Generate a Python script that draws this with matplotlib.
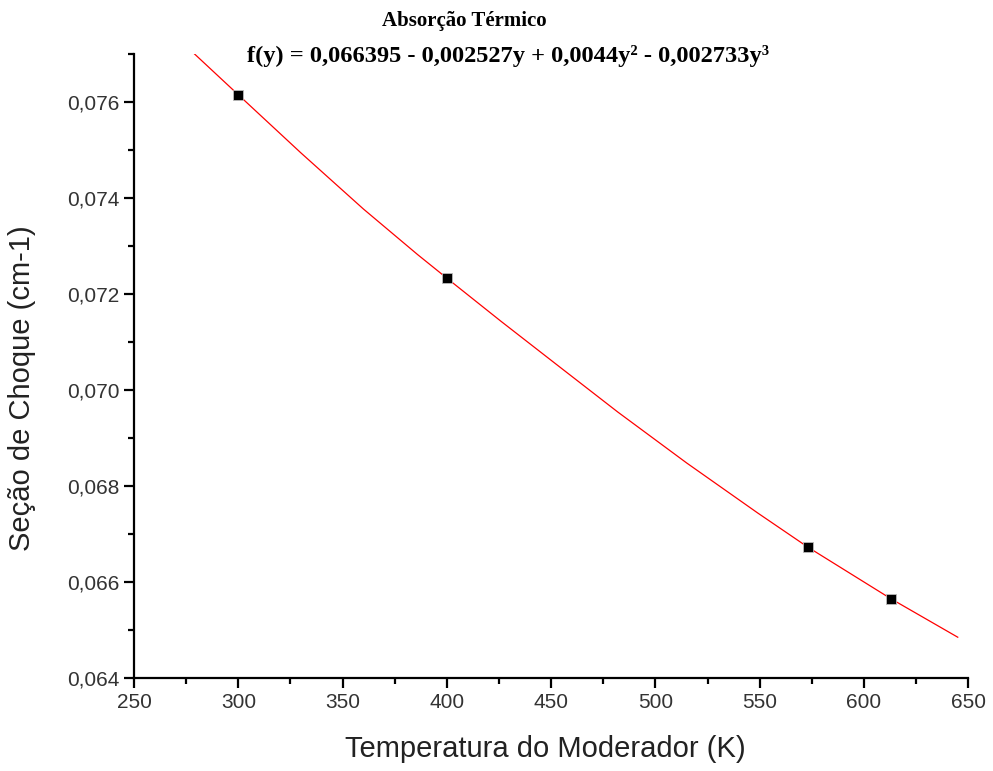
import matplotlib.pyplot as plt
from matplotlib.ticker import FuncFormatter, MultipleLocator

# measured points
temp = [300, 400, 573, 613]
sigma = [0.07615, 0.07233, 0.06673, 0.06565]

# fitted curve
fit_temp = [279, 300, 330, 360, 386, 400, 426, 455, 482, 515, 549, 573, 613, 645]
fit_sigma = [0.07700, 0.07615, 0.07494, 0.07377, 0.07282, 0.07233, 0.07143,
             0.07045, 0.06954, 0.06848, 0.06744, 0.06673, 0.06565, 0.06485]

title = "Absorção Térmico"
formula = "f(y) = 0,066395 - 0,002527y + 0,0044y² - 0,002733y³"


def main():
    plt.rcParams["font.family"] = ["Liberation Sans", "DejaVu Sans"]

    fig = plt.figure(figsize=(9.93, 7.71), dpi=100)
    ax = fig.add_axes([0.135, 0.1206, 0.84, 0.8094])

    ax.plot(fit_temp, fit_sigma, color="red", linewidth=0.9, zorder=2)
    ax.plot(temp, sigma, linestyle="none", marker="s", markersize=7,
            markerfacecolor="black", markeredgecolor="#bbbbbb",
            markeredgewidth=0.6, zorder=3)

    ax.set_xlim(250, 650)
    ax.set_ylim(0.064, 0.077)

    ax.xaxis.set_major_locator(MultipleLocator(50))
    ax.xaxis.set_minor_locator(MultipleLocator(25))
    ax.yaxis.set_major_locator(MultipleLocator(0.002))
    ax.yaxis.set_minor_locator(MultipleLocator(0.001))
    ax.yaxis.set_major_formatter(
        FuncFormatter(lambda v, _: f"{v:.3f}".replace(".", ","))
    )

    for side in ("top", "right"):
        ax.spines[side].set_visible(False)
    for side in ("left", "bottom"):
        ax.spines[side].set_linewidth(1.6)

    ax.tick_params(which="major", direction="out", length=7, width=1.6,
                   labelsize=15, colors="black", labelcolor="#333333")
    ax.tick_params(which="minor", direction="out", length=4, width=1.6)

    ax.set_xlabel("Temperatura do Moderador (K)", fontsize=21, color="#222222")
    ax.xaxis.set_label_coords(0.493, -0.091)
    ax.set_ylabel("Seção de Choque (cm-1)", fontsize=21, color="#222222")
    ax.yaxis.set_label_coords(-0.118, 0.465)

    fig.text(0.468, 0.973, title, ha="center", va="center",
             family="Liberation Serif", fontweight="bold", fontsize=15)
    fig.text(0.512, 0.928, formula, ha="center", va="center",
             family="Liberation Serif", fontweight="bold", fontsize=17.6)

    fig.savefig("out.png", dpi=100)
    plt.close(fig)


if __name__ == "__main__":
    main()
